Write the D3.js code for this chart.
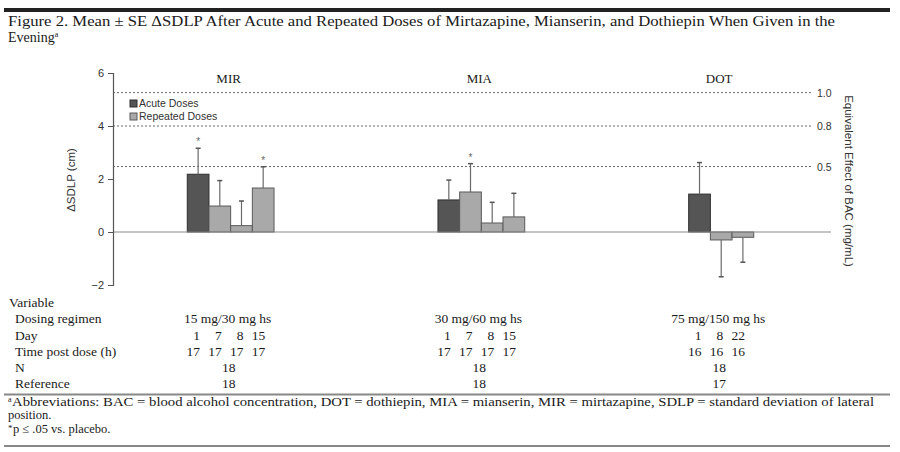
<!DOCTYPE html>
<html>
<head>
<meta charset="utf-8">
<script src="https://cdn.jsdelivr.net/npm/d3@7"></script>
<style>
  body { margin: 0; background: #fff; }
  .serif { font-family: "Liberation Serif", "DejaVu Serif", serif; fill: #1a1a1a; }
  .sans { font-family: "Liberation Sans", Arial, sans-serif; fill: #333; }
</style>
</head>
<body>
<div id="chart"></div>
<script>
// 1: DATA
const groups = ["MIR", "MIA", "DOT"];
const regimens = ["15 mg/30 mg hs", "30 mg/60 mg hs", "75 mg/150 mg hs"];
const days = [[1, 7, 8, 15], [1, 7, 8, 15], [1, 8, 22]];
const timePostDose = [[17, 17, 17, 17], [17, 17, 17, 17], [16, 16, 16]];
const nSubjects = [18, 18, 18];
const references = [18, 18, 17];
const means = [[2.18, 0.98, 0.24, 1.66], [1.21, 1.51, 0.34, 0.57], [1.43, -0.30, -0.20]];
const errors = [[0.98, 0.96, 0.93, 0.80], [0.75, 1.07, 0.78, 0.89], [1.19, 1.39, 0.94]];
const significant = [[1, 0, 0, 1], [0, 1, 0, 0], [0, 0, 0]];
const doseTypes = ["Acute Doses", "Repeated Doses"];
const yTicks = [6, 4, 2, 0, -2];
const bacLevels = [1.0, 0.8, 0.5];
const bacSdlp = [5.26, 4.0, 2.47];

// flat list of bars
const bars = [];
groups.forEach((g, gi) => {
    means[gi].forEach((m, i) => {
        bars.push({
            group: g, gi, i, mean: m, err: errors[gi][i],
            sig: significant[gi][i] === 1,
            type: i === 0 ? "Acute Doses" : "Repeated Doses",
            day: days[gi][i], time: timePostDose[gi][i]
        });
    });
});

// 2: SVG
const W = 900, H = 452;
const svg = d3.select("#chart").append("svg")
    .attr("width", W).attr("height", H);

// 3: SCALES
const yScale = d3.scaleLinear().domain([-2, 6]).range([285, 73]);
const xGroup = d3.scaleBand().domain(groups).range([113, 831])
    .paddingInner(0.654).paddingOuter(0.259).align(0.572);
const xBar = d3.scaleBand().domain([0, 1, 2, 3]).range([0, xGroup.bandwidth()]);
const color = d3.scaleOrdinal().domain(doseTypes).range(["#555555", "#a9a9a9"]);
const stroke = d3.scaleOrdinal().domain(doseTypes).range(["#2e2e2e", "#5a5a5a"]);

const barX = d => xGroup(d.group) + xBar(d.i);
const barCx = d => barX(d) + xBar.bandwidth() / 2;
const groupCx = gi => {
    const n = means[gi].length;
    return xGroup(groups[gi]) + xBar.bandwidth() * n / 2;
};

// 4: TITLE
svg.append("rect").attr("x", 4).attr("y", 8).attr("width", 886).attr("height", 4).attr("fill", "#222");
svg.append("text").attr("class", "serif")
    .attr("x", 8).attr("y", 26)
    .attr("font-size", 14)
    .attr("textLength", 827).attr("lengthAdjust", "spacingAndGlyphs")
    .text("Figure 2. Mean ± SE ΔSDLP After Acute and Repeated Doses of Mirtazapine, Mianserin, and Dothiepin When Given in the");
const t2 = svg.append("text").attr("class", "serif")
    .attr("x", 8).attr("y", 42).attr("font-size", 14);
t2.append("tspan").text("Evening");
t2.append("tspan").attr("font-size", 8).attr("dy", -5).text("a");

// 5: REFERENCE LINES (BAC)
svg.selectAll(".bac")
    .data(bacSdlp)
    .enter().append("line")
    .attr("x1", 113).attr("x2", 813)
    .attr("y1", d => yScale(d)).attr("y2", d => yScale(d))
    .attr("stroke", "#6a6a6a").attr("stroke-width", 1)
    .attr("stroke-dasharray", "2,2");

svg.selectAll(".bacLabel")
    .data(bacLevels)
    .enter().append("text").attr("class", "sans")
    .attr("x", 817).attr("y", (d, i) => yScale(bacSdlp[i]) + 4)
    .attr("font-size", 10.5)
    .text(d => d3.format(".1f")(d));

// 6: BARS
svg.selectAll(".bar")
    .data(bars)
    .enter().append("rect")
    .attr("x", barX)
    .attr("width", xBar.bandwidth())
    .attr("y", d => yScale(Math.max(0, d.mean)))
    .attr("height", d => Math.abs(yScale(d.mean) - yScale(0)))
    .attr("fill", d => color(d.type))
    .attr("stroke", d => stroke(d.type))
    .attr("stroke-width", 1);

// error bars (one-sided, away from zero)
const errEnd = d => d.mean >= 0 ? d.mean + d.err : d.mean - d.err;
svg.selectAll(".errLine")
    .data(bars)
    .enter().append("line")
    .attr("x1", barCx).attr("x2", barCx)
    .attr("y1", d => yScale(d.mean)).attr("y2", d => yScale(errEnd(d)))
    .attr("stroke", "#6a6a6a").attr("stroke-width", 1.2);
svg.selectAll(".errCap")
    .data(bars)
    .enter().append("line")
    .attr("x1", d => barCx(d) - 2.5).attr("x2", d => barCx(d) + 2.5)
    .attr("y1", d => yScale(errEnd(d))).attr("y2", d => yScale(errEnd(d)))
    .attr("stroke", "#555").attr("stroke-width", 1.5);

svg.selectAll(".star")
    .data(bars.filter(d => d.sig))
    .enter().append("text").attr("class", "sans")
    .attr("x", barCx).attr("y", d => yScale(errEnd(d)) - 3)
    .attr("text-anchor", "middle").attr("font-size", 10)
    .style("fill", "#666")
    .text("*");

// zero line
svg.append("line")
    .attr("x1", 113).attr("x2", 831)
    .attr("y1", yScale(0)).attr("y2", yScale(0))
    .attr("stroke", "#8a8a8a").attr("stroke-width", 1.2);

// 7: Y AXIS
const yAxis = svg.append("g")
    .attr("transform", "translate(113,0)")
    .call(d3.axisLeft(yScale).tickValues(yTicks).tickSize(5).tickPadding(4)
        .tickFormat(d => d < 0 ? "\u2212" + Math.abs(d) : d));
yAxis.select(".domain").attr("stroke", "#555").attr("stroke-width", 1.2);
yAxis.selectAll(".tick line").attr("stroke", "#555");
yAxis.selectAll(".tick text")
    .attr("font-family", "Liberation Sans, Arial, sans-serif")
    .attr("font-size", 11).attr("fill", "#333");

svg.append("text").attr("class", "sans")
    .attr("transform", "translate(75,180) rotate(-90)")
    .attr("text-anchor", "middle").attr("font-size", 11.5)
    .text("ΔSDLP (cm)");

svg.append("text").attr("class", "sans")
    .attr("transform", "translate(845,181) rotate(90)")
    .attr("text-anchor", "middle").attr("font-size", 11.5)
    .text("Equivalent Effect of BAC (mg/mL)");

// group labels
svg.selectAll(".groupLabel")
    .data(groups)
    .enter().append("text").attr("class", "serif")
    .attr("x", (d, gi) => groupCx(gi) - 2).attr("y", 83)
    .attr("text-anchor", "middle").attr("font-size", 13)
    .text(d => d);

// 8: LEGEND
const legend = svg.selectAll(".legend")
    .data(doseTypes)
    .enter().append("g")
    .attr("transform", (d, i) => `translate(130, ${100 + i * 13})`);
legend.append("rect")
    .attr("width", 7).attr("height", 7)
    .attr("fill", d => color(d)).attr("stroke", d => stroke(d));
legend.append("text").attr("class", "sans")
    .attr("x", 9).attr("y", 7)
    .attr("font-size", 10.5)
    .text(d => d);

// 9: TABLE
const rowY = { variable: 307, regimen: 323, day: 340, time: 356, n: 372, ref: 388 };
svg.append("text").attr("class", "serif").attr("x", 9).attr("y", rowY.variable)
    .attr("font-size", 13.5).text("Variable");
const rowLabels = [["Dosing regimen", rowY.regimen], ["Day", rowY.day],
    ["Time post dose (h)", rowY.time], ["N", rowY.n], ["Reference", rowY.ref]];
svg.selectAll(".rowLabel")
    .data(rowLabels)
    .enter().append("text").attr("class", "serif")
    .attr("x", 15).attr("y", d => d[1])
    .attr("font-size", 13.5).text(d => d[0]);

svg.selectAll(".regimen")
    .data(regimens)
    .enter().append("text").attr("class", "serif")
    .attr("x", (d, gi) => groupCx(gi) - 3).attr("y", rowY.regimen)
    .attr("text-anchor", "middle").attr("font-size", 13.5)
    .text(d => d);

svg.selectAll(".dayVal")
    .data(bars)
    .enter().append("text").attr("class", "serif")
    .attr("x", d => barCx(d) + 2).attr("y", rowY.day)
    .attr("text-anchor", "end").attr("font-size", 13.5)
    .text(d => d.day);

svg.selectAll(".timeVal")
    .data(bars)
    .enter().append("text").attr("class", "serif")
    .attr("x", d => barCx(d) + 2).attr("y", rowY.time)
    .attr("text-anchor", "end").attr("font-size", 13.5)
    .text(d => d.time);

svg.selectAll(".nVal")
    .data(nSubjects)
    .enter().append("text").attr("class", "serif")
    .attr("x", (d, gi) => groupCx(gi) - 2).attr("y", rowY.n)
    .attr("text-anchor", "middle").attr("font-size", 13.5)
    .text(d => d);

svg.selectAll(".refVal")
    .data(references)
    .enter().append("text").attr("class", "serif")
    .attr("x", (d, gi) => groupCx(gi) - 2).attr("y", rowY.ref)
    .attr("text-anchor", "middle").attr("font-size", 13.5)
    .text(d => d);

// 10: FOOTNOTES
svg.append("line").attr("x1", 4).attr("x2", 890).attr("y1", 394.5).attr("y2", 394.5)
    .attr("stroke", "#888").attr("stroke-width", 2);
svg.append("text").attr("class", "serif").attr("x", 8).attr("y", 402).attr("font-size", 8).text("a");
svg.append("text").attr("class", "serif").attr("x", 12).attr("y", 406).attr("font-size", 12.5)
    .attr("textLength", 862).attr("lengthAdjust", "spacingAndGlyphs")
    .text("Abbreviations: BAC = blood alcohol concentration, DOT = dothiepin, MIA = mianserin, MIR = mirtazapine, SDLP = standard deviation of lateral");
svg.append("text").attr("class", "serif").attr("x", 8).attr("y", 419).attr("font-size", 12.5)
    .text("position.");
svg.append("text").attr("class", "serif").attr("x", 8).attr("y", 431).attr("font-size", 9).text("*");
svg.append("text").attr("class", "serif").attr("x", 13).attr("y", 433).attr("font-size", 12.5)
    .text("p ≤ .05 vs. placebo.");
svg.append("line").attr("x1", 4).attr("x2", 890).attr("y1", 446).attr("y2", 446)
    .attr("stroke", "#888").attr("stroke-width", 2);
</script>
</body>
</html>
